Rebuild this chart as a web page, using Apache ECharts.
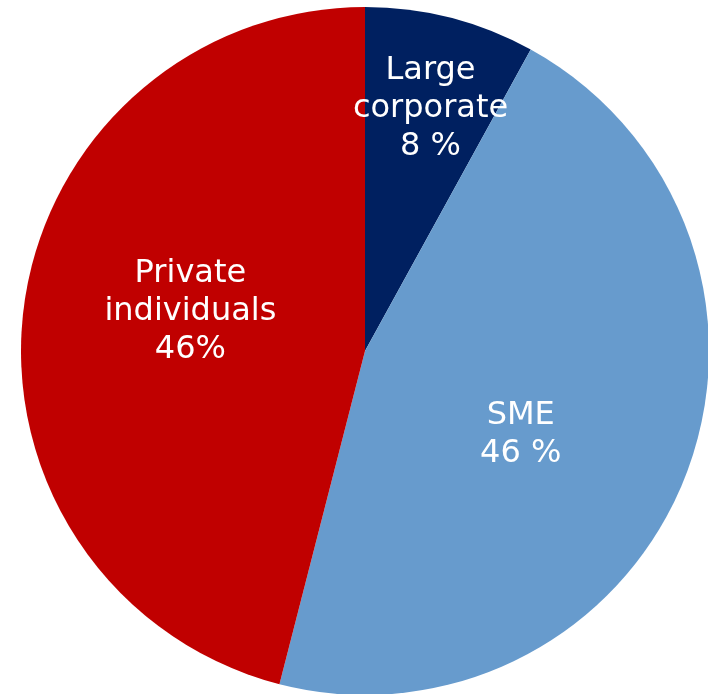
<!DOCTYPE html>
<html>
<head>
<meta charset="utf-8">
<script src="https://cdn.jsdelivr.net/npm/echarts@6/dist/echarts.min.js"></script>
<style>
  html, body { margin: 0; padding: 0; background: #ffffff; }
  #chart { width: 708px; height: 694px; }
</style>
</head>
<body>
<div id="chart"></div>
<script>
// Loan portfolio split by customer segment
const categories = ['Large corporate', 'SME', 'Private individuals'];
const shares = [8, 46, 46];
const labelTexts = ['Large\ncorporate\n8 %', 'SME\n46 %', 'Private\nindividuals\n46%'];
const colors = ['#002060', '#679BCD', '#C00000'];
// nudges of each label from its slice's default inside position
const labelOffsets = [[22, -73], [-7, 19], [-1, -17]];

const chart = echarts.init(document.getElementById('chart'), null, { renderer: 'canvas' });

chart.setOption({
  animation: false,
  backgroundColor: '#ffffff',
  series: [{
    type: 'pie',
    center: [365, 351],
    radius: [0, 344],
    startAngle: 90,
    clockwise: true,
    avoidLabelOverlap: false,
    silent: true,
    itemStyle: { borderWidth: 0 },
    label: {
      show: true,
      position: 'inside',
      rotate: 0,
      color: '#ffffff',
      fontFamily: 'DejaVu Sans',
      fontSize: 32,
      lineHeight: 38,
      align: 'center'
    },
    labelLine: { show: false },
    data: categories.map((name, i) => ({
      name: name,
      value: shares[i],
      itemStyle: { color: colors[i] },
      label: { formatter: labelTexts[i], offset: labelOffsets[i] }
    }))
  }]
});
</script>
</body>
</html>
